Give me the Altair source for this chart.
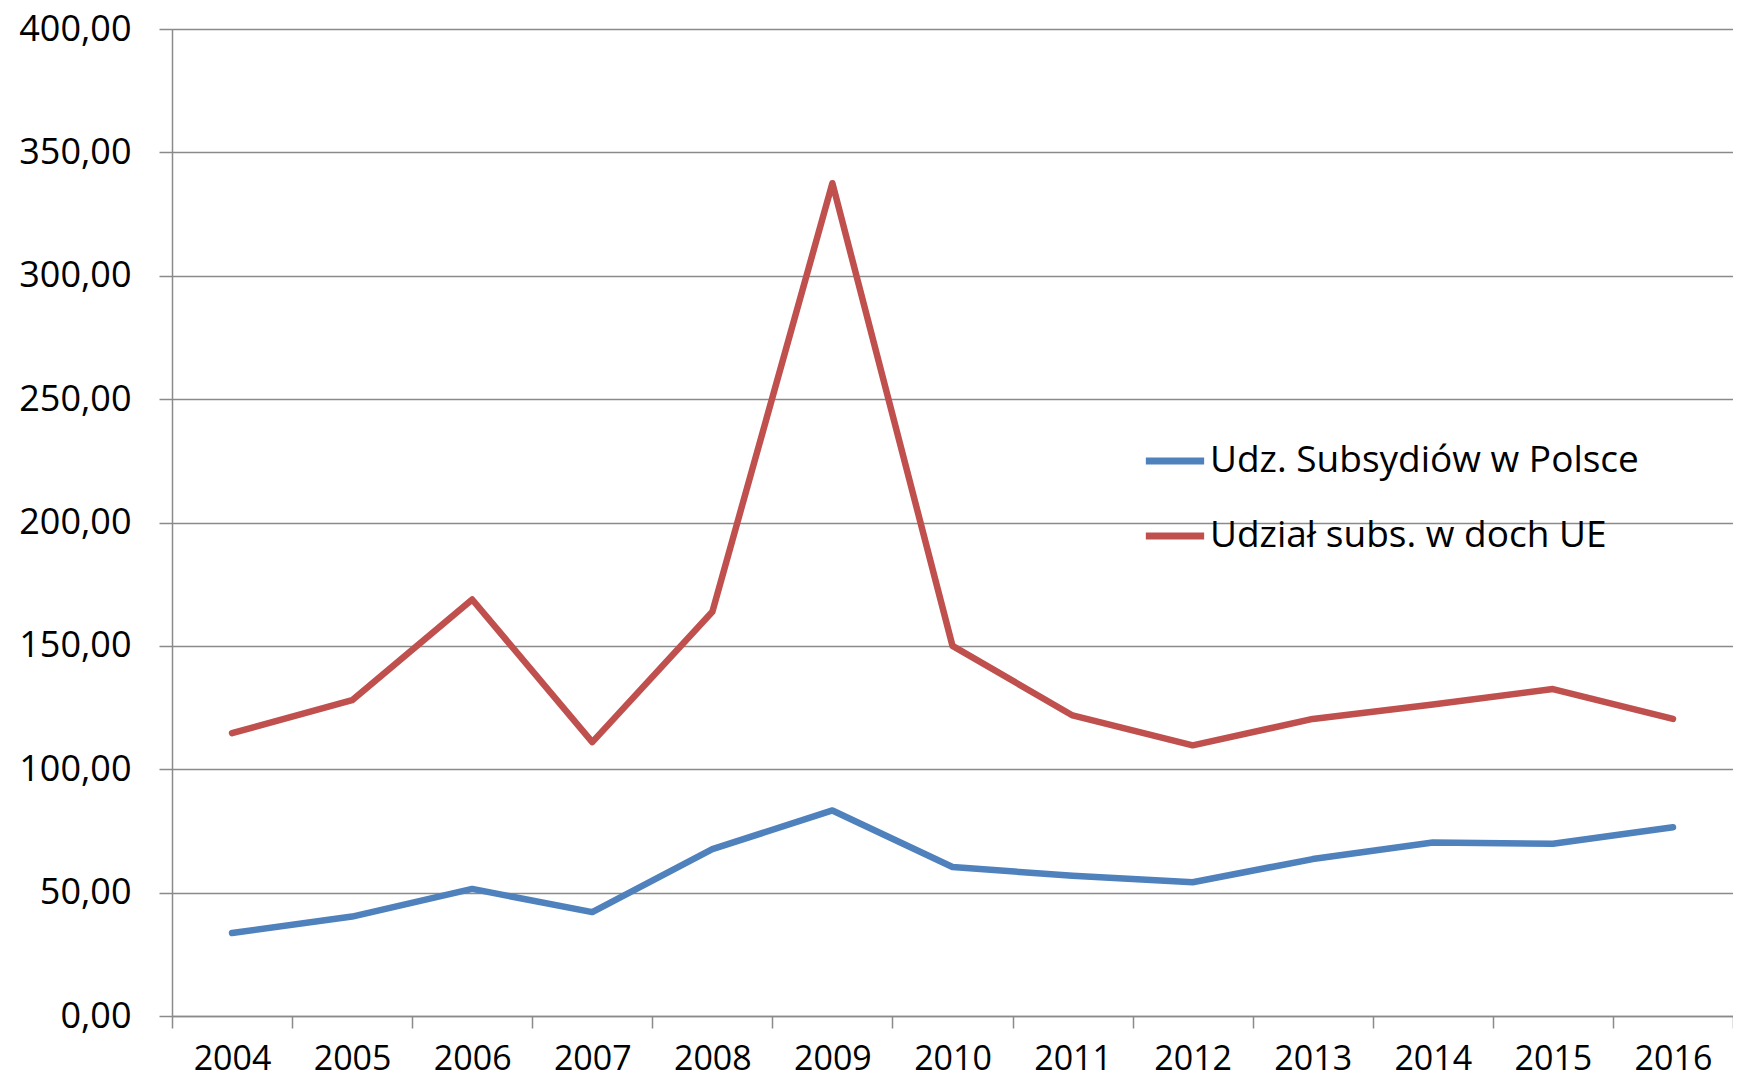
import altair as alt
import pandas as pd

years = list(range(2004, 2017))
series_pl = "Udz. Subsydiów w Polsce"
series_ue = "Udział subs. w doch UE"
vals_pl = [33.6, 40.3, 51.5, 42.1, 67.6, 83.3, 60.4, 56.8, 54.2, 63.6, 70.3, 69.8, 76.5]
vals_ue = [114.6, 128.0, 168.8, 111.0, 163.8, 337.5, 150.0, 121.8, 109.7, 120.4, 126.2, 132.5, 120.4]
y_ticks = [0, 50, 100, 150, 200, 250, 300, 350, 400]
x_ticks = [y - 0.5 for y in years] + [years[-1] + 0.5]

df = pd.DataFrame(
    {"rok": years * 2,
     "wartosc": vals_pl + vals_ue,
     "seria": [series_pl] * len(years) + [series_ue] * len(years)}
)

W = 1561
H = 987
band = W / len(years)
FONT = "Open Sans"

chart = alt.Chart(df).mark_line(strokeWidth=6.5, strokeCap="round", strokeJoin="round").encode(
    x=alt.X("rok:Q",
            scale=alt.Scale(domain=[years[0] - 0.5, years[-1] + 0.5], nice=False, zero=False),
            axis=alt.Axis(values=x_ticks, title=None, grid=False,
                          labelExpr=f"datum.value >= {years[-1]} ? '' : format(datum.value + 0.5, 'd')",
                          labelOffset=band / 2, labelFlush=False, labelOverlap=False,
                          tickSize=12, labelPadding=14,
                          labelFont=FONT, labelFontSize=34, labelColor="#000000",
                          tickColor="#8a8a8a", domainColor="#8a8a8a", tickWidth=1.5, domainWidth=1.5)),
    y=alt.Y("wartosc:Q",
            scale=alt.Scale(domain=[0, 400], nice=False),
            axis=alt.Axis(values=y_ticks, title=None,
                          labelExpr="replace(format(datum.value, '.2f'), '.', ',')",
                          tickSize=13, labelPadding=28,
                          labelFont=FONT, labelFontSize=36, labelColor="#000000",
                          gridColor="#8a8a8a", gridWidth=1.5,
                          tickColor="#8a8a8a", domainColor="#8a8a8a", tickWidth=1.5, domainWidth=1.5)),
    color=alt.Color("seria:N",
                    scale=alt.Scale(domain=[series_pl, series_ue], range=["#4F81BD", "#C0504D"]),
                    legend=alt.Legend(title=None, orient="none", legendX=970, legendY=399,
                                      symbolType="stroke", symbolStrokeWidth=7, symbolSize=3400,
                                      labelFont=FONT, labelFontSize=37, labelColor="#000000",
                                      labelOffset=2, rowPadding=24, padding=0, labelLimit=800)),
).properties(
    width=W, height=H,
    padding={"left": 164, "top": 21, "right": 0, "bottom": 68},
    autosize=alt.AutoSizeParams(type="none"),
).configure_view(stroke=None).configure(background="white")

chart.save("out.html", embed_options={"renderer": "svg", "actions": False})
